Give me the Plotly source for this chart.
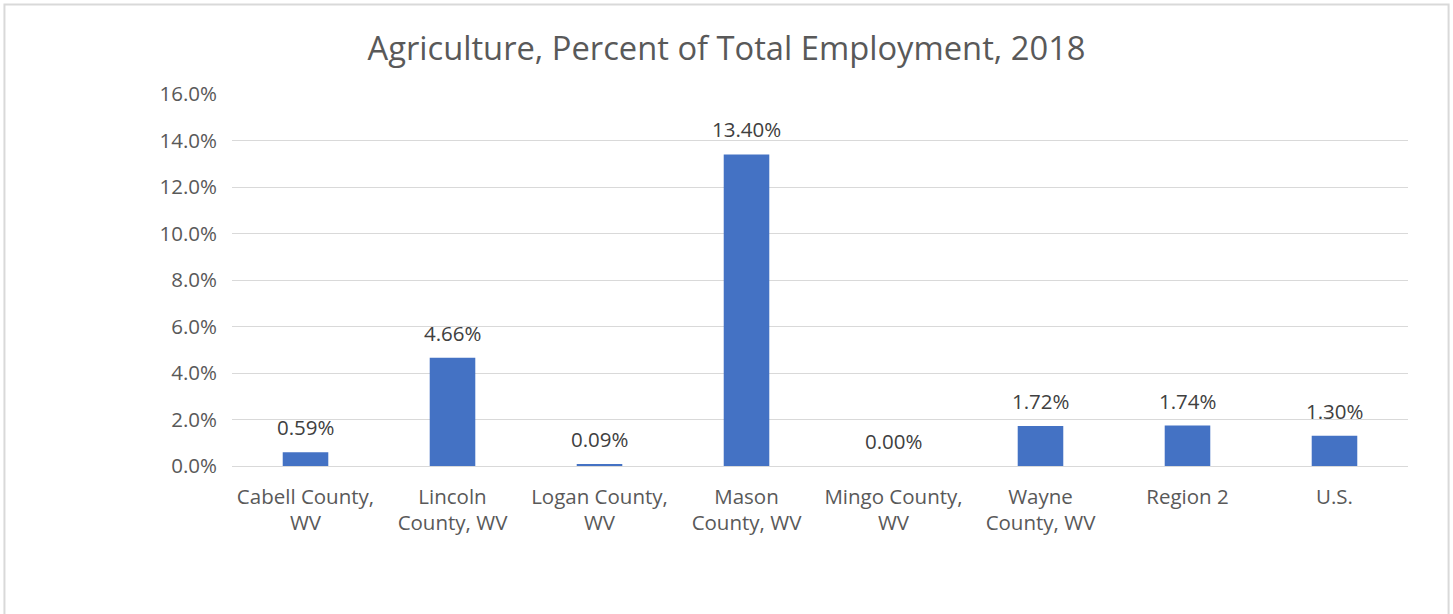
import plotly.graph_objects as go

categories = ["Cabell County,<br>WV", "Lincoln<br>County, WV", "Logan County,<br>WV", "Mason<br>County, WV",
              "Mingo County,<br>WV", "Wayne<br>County, WV", "Region 2", "U.S."]
values = [0.59, 4.66, 0.09, 13.40, 0.00, 1.72, 1.74, 1.30]
y_ticks = [0, 2, 4, 6, 8, 10, 12, 14, 16]
y_tick_labels = [f"{v:.1f}%" for v in y_ticks]
title = "Agriculture, Percent of Total Employment, 2018"

FONT = "Open Sans"
FS = 20.5
fig = go.Figure()
fig.add_trace(go.Bar(x=categories, y=values, marker_color="#4472C4", marker_line_width=0, hoverinfo="skip"))

for c, v in zip(categories, values):
    fig.add_annotation(x=c, y=v, text=f"{v:.2f}%", showarrow=False, yanchor="bottom", yshift=9,
                       font=dict(family=FONT, size=FS, color="#404040"))

fig.add_shape(type="rect", xref="paper", yref="paper", x0=-0.1935, x1=1.0345, y0=-0.41, y1=1.2405,
              line=dict(color="#d9d9d9", width=2), fillcolor="rgba(0,0,0,0)", layer="below")

fig.update_layout(
    width=1453, height=614,
    margin=dict(l=232, r=45, t=94, b=148, autoexpand=False),
    paper_bgcolor="white", plot_bgcolor="white",
    bargap=0.69,
    showlegend=False,
    title=dict(text=title, x=0.5, xref="container", xanchor="center", y=1 - 49 / 614, yanchor="middle",
               font=dict(family=FONT, size=32.7, color="#595959")),
    font=dict(family=FONT, size=FS, color="#595959"),
    xaxis=dict(showgrid=False, showline=True, linecolor="#d9d9d9", linewidth=1, ticks="",
               automargin=False, ticklabelstandoff=12,
               tickfont=dict(family=FONT, size=FS, color="#595959")),
    yaxis=dict(range=[0, 16], tickvals=y_ticks, ticktext=y_tick_labels, showgrid=True, gridcolor="#d9d9d9",
               gridwidth=1, zeroline=False, showline=False, ticks="", automargin=False,
               ticklabelstandoff=14,
               tickfont=dict(family=FONT, size=FS, color="#595959")),
)
fig.write_html("out.html", config={"displayModeBar": False},
               post_script="document.body.style.margin='0';")
